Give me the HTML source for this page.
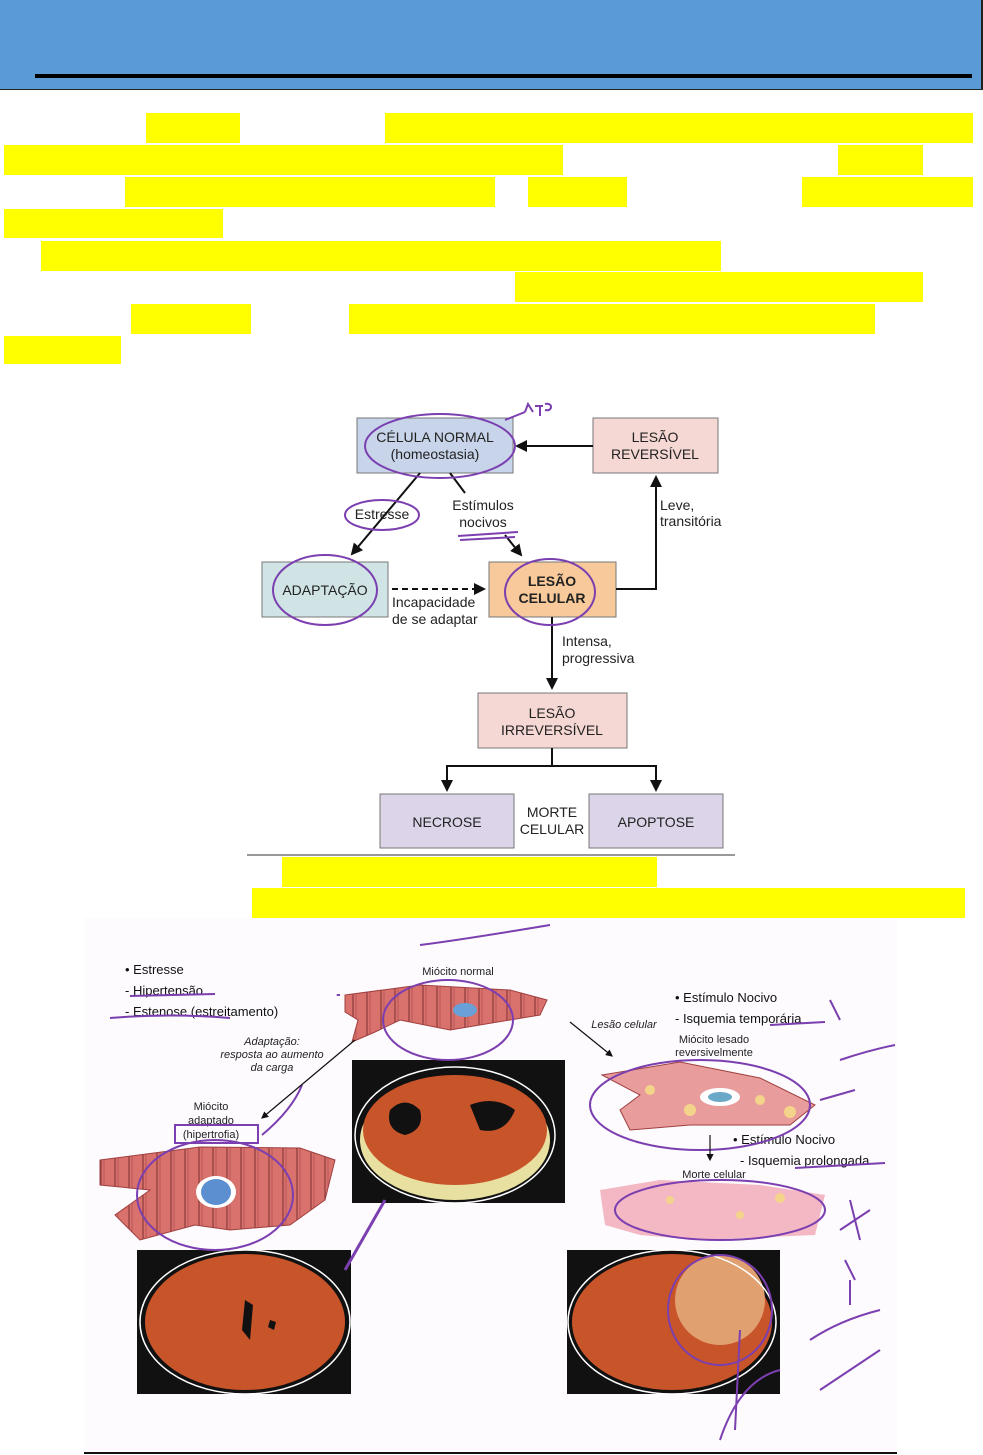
<!DOCTYPE html>
<html><head><meta charset="utf-8"><style>
body{margin:0;width:983px;height:1455px;background:#fff;position:relative;overflow:hidden;font-family:"Liberation Sans",sans-serif}
.y{position:absolute;background:#ffff00}
</style></head><body>
<div style="position:absolute;left:0;top:0;width:981px;height:89px;background:#5b9bd5;border-right:2px solid #222;border-bottom:1px solid #222"></div>
<div style="position:absolute;left:35px;top:74px;width:937px;height:4px;background:#000"></div>

<div class="y" style="left:146px;top:113px;width:94px;height:30px"></div>
<div class="y" style="left:385px;top:113px;width:588px;height:30px"></div>
<div class="y" style="left:4px;top:145px;width:559px;height:30px"></div>
<div class="y" style="left:838px;top:145px;width:85px;height:30px"></div>
<div class="y" style="left:125px;top:177px;width:370px;height:30px"></div>
<div class="y" style="left:528px;top:177px;width:99px;height:30px"></div>
<div class="y" style="left:802px;top:177px;width:171px;height:30px"></div>
<div class="y" style="left:4px;top:209px;width:219px;height:29px"></div>
<div class="y" style="left:41px;top:241px;width:680px;height:30px"></div>
<div class="y" style="left:515px;top:272px;width:408px;height:30px"></div>
<div class="y" style="left:131px;top:304px;width:120px;height:30px"></div>
<div class="y" style="left:349px;top:304px;width:526px;height:30px"></div>
<div class="y" style="left:4px;top:336px;width:117px;height:28px"></div>
<div class="y" style="left:282px;top:857px;width:375px;height:30px"></div>
<div class="y" style="left:252px;top:888px;width:713px;height:30px"></div>

<svg style="position:absolute;left:0;top:0" width="983" height="1455" font-family="Liberation Sans, sans-serif">
<defs><marker id="a" markerWidth="6" markerHeight="6" refX="5" refY="3" orient="auto"><path d="M0,0 L6,3 L0,6 z" fill="#111"/></marker>
<pattern id="st" width="14" height="6" patternUnits="userSpaceOnUse"><rect width="14" height="6" fill="#d9716c"/><line x1="3" y1="0" x2="3" y2="6" stroke="#8a3a3a" stroke-width="1.2"/><line x1="6" y1="0" x2="6" y2="6" stroke="#b05050" stroke-width="0.8"/></pattern>
</defs>
<g stroke="#777" stroke-width="1">
<rect x="357" y="418" width="156" height="55" fill="#c8d4e9"/>
<rect x="593" y="418" width="125" height="55" fill="#f5d8d4"/>
<rect x="262" y="562" width="126" height="55" fill="#d0e4e6"/>
<rect x="489" y="562" width="127" height="55" fill="#f7c99b"/>
<rect x="478" y="693" width="149" height="55" fill="#f5d8d4"/>
<rect x="380" y="794" width="134" height="54" fill="#dcd4e8"/>
<rect x="589" y="794" width="134" height="54" fill="#dcd4e8"/>
</g>
<g font-size="14" fill="#222" text-anchor="middle">
<text x="435" y="442">CÉLULA NORMAL</text><text x="435" y="459">(homeostasia)</text>
<text x="655" y="442">LESÃO</text><text x="655" y="459">REVERSÍVEL</text>
<text x="325" y="595">ADAPTAÇÃO</text>
<text x="552" y="586" font-weight="bold">LESÃO</text><text x="552" y="603" font-weight="bold">CELULAR</text>
<text x="552" y="718">LESÃO</text><text x="552" y="735">IRREVERSÍVEL</text>
<text x="447" y="827">NECROSE</text><text x="656" y="827">APOPTOSE</text>
<text x="552" y="817">MORTE</text><text x="552" y="834">CELULAR</text>
<text x="382" y="519">Estresse</text>
<text x="483" y="510">Estímulos</text><text x="483" y="527">nocivos</text>
</g>
<g font-size="14" fill="#222">
<text x="660" y="510">Leve,</text><text x="660" y="526">transitória</text>
<text x="392" y="607">Incapacidade</text><text x="392" y="624">de se adaptar</text>
<text x="562" y="646">Intensa,</text><text x="562" y="663">progressiva</text>
</g>
<g stroke="#111" stroke-width="2" fill="none">
<line x1="593" y1="446" x2="517" y2="446" marker-end="url(#a)"/>
<polyline points="616,589 656,589 656,477" marker-end="url(#a)"/>
<line x1="420" y1="473" x2="352" y2="554" marker-end="url(#a)"/>
<line x1="450" y1="473" x2="465" y2="493"/>
<line x1="505" y1="535" x2="521" y2="555" marker-end="url(#a)"/>
<line x1="392" y1="589" x2="484" y2="589" stroke-dasharray="6,4" marker-end="url(#a)"/>
<line x1="552" y1="617" x2="552" y2="688" marker-end="url(#a)"/>
<polyline points="552,748 552,766 447,766 447,790" marker-end="url(#a)"/>
<polyline points="552,766 656,766 656,790" marker-end="url(#a)"/>
</g>
<line x1="247" y1="855" x2="735" y2="855" stroke="#333" stroke-width="1"/>
<g stroke="#7b3fb0" stroke-width="2" fill="none">
<ellipse cx="440" cy="446" rx="75" ry="32"/><ellipse cx="325" cy="590" rx="52" ry="35"/>
<ellipse cx="550" cy="592" rx="45" ry="33"/><ellipse cx="382" cy="515" rx="37" ry="15"/>
<path d="M505,420 L525,412 M525,412 l3,-8 l5,8 M535,406 h8 M540,406 v10 M545,404 c8,-2 8,8 0,6"/>
<path d="M458,536 l60,-4 M460,540 l55,-3"/>
</g>

<rect x="84" y="918" width="813" height="532" fill="#fdfbfe"/>
<line x1="84" y1="1453" x2="897" y2="1453" stroke="#111" stroke-width="2"/>
<g font-size="13" fill="#111">
<text x="125" y="974">• Estresse</text><text x="125" y="995">- Hipertensão</text><text x="125" y="1016">- Estenose (estreitamento)</text>
<text x="675" y="1002">• Estímulo Nocivo</text><text x="675" y="1023">- Isquemia temporária</text>
<text x="733" y="1144">• Estímulo Nocivo</text><text x="740" y="1165">- Isquemia prolongada</text>
</g>
<g font-size="11" fill="#222" text-anchor="middle">
<text x="458" y="975">Miócito normal</text>
<text x="272" y="1045" font-style="italic">Adaptação:</text><text x="272" y="1058" font-style="italic">resposta ao aumento</text><text x="272" y="1071" font-style="italic">da carga</text>
<text x="624" y="1028" font-style="italic">Lesão celular</text>
<text x="714" y="1043">Miócito lesado</text><text x="714" y="1056">reversivelmente</text>
<text x="211" y="1110">Miócito</text><text x="211" y="1124">adaptado</text><text x="211" y="1138">(hipertrofia)</text>
<text x="714" y="1178">Morte celular</text>
</g>
<g stroke="#a04040">
<path d="M345,995 L420,985 L510,990 L547,1000 L540,1015 L450,1030 L400,1020 L375,1032 L352,1042 L358,1020 L345,1012 Z" fill="url(#st)"/>
<path d="M100,1160 L200,1147 L300,1148 L335,1160 L325,1200 L290,1225 L230,1230 L195,1225 L140,1240 L115,1215 L150,1190 L100,1185 Z" fill="url(#st)"/>
<path d="M602,1075 L680,1062 L760,1078 L815,1105 L790,1125 L690,1125 L630,1130 L620,1110 L640,1095 Z" fill="#e89c9c"/>
</g>
<path d="M600,1190 L660,1180 L760,1185 L825,1195 L815,1235 L700,1240 L640,1235 L605,1225 Z" fill="#f3b8c4"/>
<g fill="#f4d48a"><circle cx="650" cy="1090" r="5"/><circle cx="690" cy="1110" r="6"/><circle cx="760" cy="1100" r="5"/><circle cx="790" cy="1112" r="6"/><circle cx="670" cy="1200" r="4"/><circle cx="740" cy="1215" r="4"/><circle cx="780" cy="1198" r="5"/></g>
<ellipse cx="465" cy="1010" rx="12" ry="7" fill="#6aa0d8"/>
<ellipse cx="216" cy="1192" rx="20" ry="16" fill="#fff"/><ellipse cx="216" cy="1192" rx="15" ry="13" fill="#5b8fd0"/>
<ellipse cx="720" cy="1097" rx="20" ry="9" fill="#fff"/><ellipse cx="720" cy="1097" rx="12" ry="5" fill="#6aa8c8"/>
<rect x="352" y="1060" width="213" height="143" fill="#111"/><ellipse cx="455" cy="1140" rx="95" ry="60" fill="#e8e0a0"/><ellipse cx="455" cy="1130" rx="92" ry="55" fill="#c8542a"/>
<path d="M390,1110 q15,-15 30,0 q5,20 -15,25 q-20,-5 -15,-25z M470,1105 q25,-10 45,5 q-10,25 -35,20 z" fill="#111"/>
<ellipse cx="455" cy="1135" rx="100" ry="68" fill="none" stroke="#fff" stroke-width="1.5"/>
<rect x="137" y="1250" width="214" height="144" fill="#111"/><ellipse cx="245" cy="1322" rx="100" ry="68" fill="#c8542a"/>
<path d="M245,1300 l8,5 l-3,35 l-8,-10z M270,1320 l6,2 l-2,8 l-6,-3z" fill="#111"/>
<ellipse cx="245" cy="1322" rx="105" ry="72" fill="none" stroke="#fff" stroke-width="1.5"/>
<rect x="567" y="1250" width="213" height="144" fill="#111"/><ellipse cx="672" cy="1322" rx="100" ry="68" fill="#c8542a"/><ellipse cx="720" cy="1300" rx="45" ry="45" fill="#e0a070"/>
<ellipse cx="672" cy="1322" rx="104" ry="72" fill="none" stroke="#fff" stroke-width="1.5"/>
<g stroke="#7b3fb0" stroke-width="2" fill="none">
<ellipse cx="448" cy="1020" rx="65" ry="40"/><ellipse cx="215" cy="1195" rx="78" ry="55"/>
<ellipse cx="700" cy="1105" rx="110" ry="45"/><ellipse cx="720" cy="1210" rx="105" ry="30"/>
<ellipse cx="720" cy="1310" rx="52" ry="55"/>
<line x1="385" y1="1200" x2="345" y2="1270" stroke-width="3"/>
<rect x="175" y="1125" width="83" height="18"/>
<path d="M420,945 q40,-5 130,-20 M830,1000 l10,20 M840,1060 q30,-10 55,-15 M820,1100 l35,-10 M840,1230 l30,-20 M850,1200 l10,40 M845,1260 l10,20 M850,1280 l0,25 M810,1340 q30,-20 70,-30 M820,1390 q30,-20 60,-40 M740,1330 l-5,100 M720,1440 q20,-60 60,-70 M262,1135 q30,-25 40,-50 M340,995 q-5,0 0,0"/>
<path d="M110,1018 q60,-5 120,0 M130,996 l85,-2 M770,1025 l55,-3 M795,1168 l90,-5"/>
</g>
<g stroke="#111" stroke-width="1.2" fill="none"><line x1="355" y1="1040" x2="262" y2="1118" marker-end="url(#a)"/><line x1="570" y1="1022" x2="612" y2="1056" marker-end="url(#a)"/><line x1="710" y1="1135" x2="710" y2="1160" marker-end="url(#a)"/></g>
</svg>
</body></html>
